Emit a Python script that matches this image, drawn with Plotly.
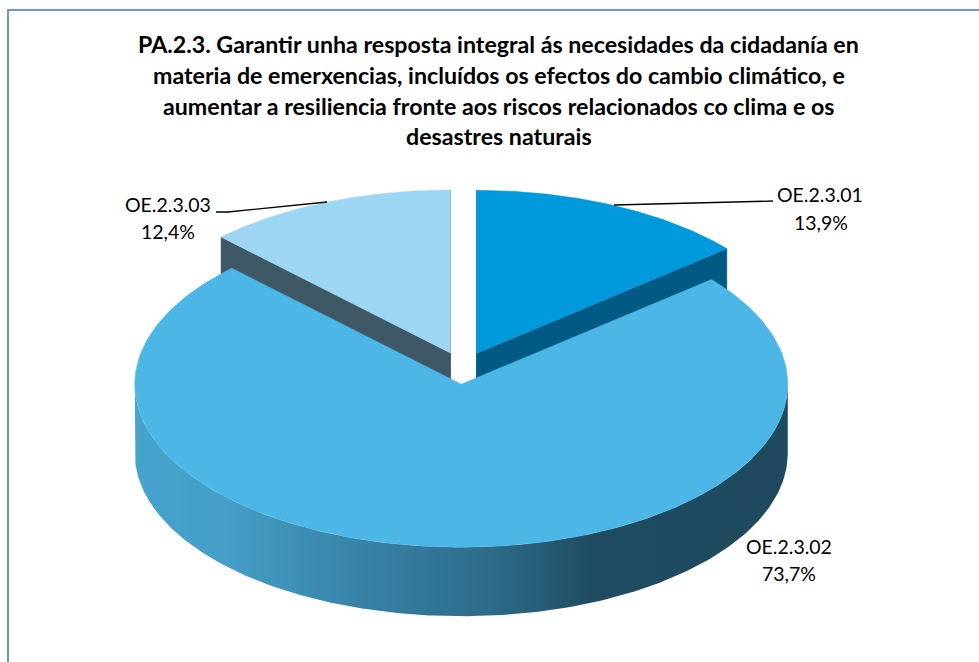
import numpy as np
import plotly.graph_objects as go

# ---- data ----
categories = ["OE.2.3.01", "OE.2.3.02", "OE.2.3.03"]
values = [13.9, 73.7, 12.4]
value_labels = ["13,9%", "73,7%", "12,4%"]
title_lines = [
    "PA.2.3. Garantir unha resposta integral ás necesidades da cidadanía en",
    "materia de emerxencias, incluídos os efectos do cambio climático, e",
    "aumentar a resiliencia fronte aos riscos relacionados co clima e os",
    "desastres naturais",
]

# ---- pie geometry (layout) ----
CX, CY = 462.8, 368.0
RX, RY = 326.5, 163.0
DEPTH = 69.0
EXPLODE = 0.0995
TOP_COLORS = ["#0099DC", "#4CB7E7", "#9CD6F2"]
WALL_COLORS = ["#005A83", None, "#3F5866"]
FRAME = "#6A97CF"
WALL_SCALE = [
    [0.00, "#46A4CE"], [0.15, "#449DC5"], [0.35, "#3782A6"], [0.55, "#2D6B89"],
    [0.70, "#1F4C61"], [1.00, "#1F4A5E"],
]

total = sum(values)
edges = np.concatenate([[0], np.cumsum(values)]) / total * 2 * np.pi


def point(theta, ox, oy):
    return ox + RX * np.sin(theta), oy - RY * np.cos(theta)


fig = go.Figure()
tops, walls = {}, {}
for i, name in enumerate(categories):
    a, b = edges[i], edges[i + 1]
    mid = (a + b) / 2
    ox = CX + RX * EXPLODE * np.sin(mid)
    oy = CY - RY * EXPLODE * np.cos(mid)
    th = np.linspace(a, b, 240)
    ax, ay = point(th, ox, oy)
    hover = f"{name}: {value_labels[i]}<extra></extra>"
    walls[i] = []

    if WALL_COLORS[i]:
        # cut faces of the exploded small slices
        for t in (a, b):
            px, py = point(t, ox, oy)
            xs = [ox, px, px, ox, ox]
            ys = [oy, py, py + DEPTH, oy + DEPTH, oy]
            walls[i].append(go.Scatter(x=xs, y=ys, mode="lines", fill="toself",
                                       fillcolor=WALL_COLORS[i],
                                       line=dict(color=WALL_COLORS[i], width=0.5),
                                       hoverinfo="skip", showlegend=False))
    else:
        # curved outer wall of the big slice, visible on the near half
        tw = np.linspace(max(a, np.pi / 2), min(b, 3 * np.pi / 2), 240)
        wx, wy = point(tw, ox, oy)
        xs = np.concatenate([wx, wx[::-1], wx[:1]])
        ys = np.concatenate([wy, wy[::-1] + DEPTH, wy[:1]])
        walls[i].append(go.Scatter(
            x=xs, y=ys, mode="lines", fill="toself",
            fillgradient=dict(type="horizontal", colorscale=WALL_SCALE),
            line=dict(width=0), hoverinfo="skip", showlegend=False))

    tops[i] = go.Scatter(
        x=np.concatenate([[ox], ax, [ox]]), y=np.concatenate([[oy], ay, [oy]]),
        mode="lines", fill="toself", fillcolor=TOP_COLORS[i],
        line=dict(color=TOP_COLORS[i], width=0.5),
        name=name, hovertemplate=hover, hoveron="fills", showlegend=False)

# small slices first, the big front slice last so it covers their walls
for i in (0, 2, 1):
    fig.add_traces(walls[i])
    fig.add_trace(tops[i])

# leader lines
leaders = [
    ([614, 773], [205, 201]),
    ([327, 228, 216], [202, 212, 212]),
]
for lx, ly in leaders:
    fig.add_trace(go.Scatter(x=lx, y=ly, mode="lines", hoverinfo="skip",
                             line=dict(color="#000000", width=1.3), showlegend=False))

FONT = "Lato, Carlito, Calibri, sans-serif"
annotations = []
for k, line in enumerate(title_lines):
    annotations.append(dict(x=498.5, y=44 + k * 30.8, text=f"<b>{line}</b>", showarrow=False,
                            xanchor="center", yanchor="middle",
                            font=dict(family=FONT, size=23.2, color="#000000")))
label_pos = {0: (820, 194, 821, 222), 1: (789, 546, 789, 573), 2: (168, 204, 168, 231)}
for i, (x1, y1, x2, y2) in label_pos.items():
    annotations.append(dict(x=x1, y=y1, text=categories[i], showarrow=False,
                            xanchor="center", yanchor="middle",
                            font=dict(family=FONT, size=19.5, color="#000000")))
    annotations.append(dict(x=x2, y=y2, text=value_labels[i], showarrow=False,
                            xanchor="center", yanchor="middle",
                            font=dict(family=FONT, size=19.5, color="#000000")))

fig.update_layout(
    width=979, height=662, margin=dict(l=0, r=0, t=0, b=0),
    paper_bgcolor="white", plot_bgcolor="white", showlegend=False,
    xaxis=dict(range=[0, 979], visible=False, fixedrange=True),
    yaxis=dict(range=[662, 0], visible=False, fixedrange=True),
    annotations=annotations,
    shapes=[dict(type="rect", x0=8, y0=10, x1=1000, y1=700, xref="x", yref="y",
                 line=dict(color=FRAME, width=2), fillcolor="rgba(0,0,0,0)", layer="below")],
)
fig.write_html("out.html", config=dict(displayModeBar=False),
               post_script="document.body.style.margin='0';")
